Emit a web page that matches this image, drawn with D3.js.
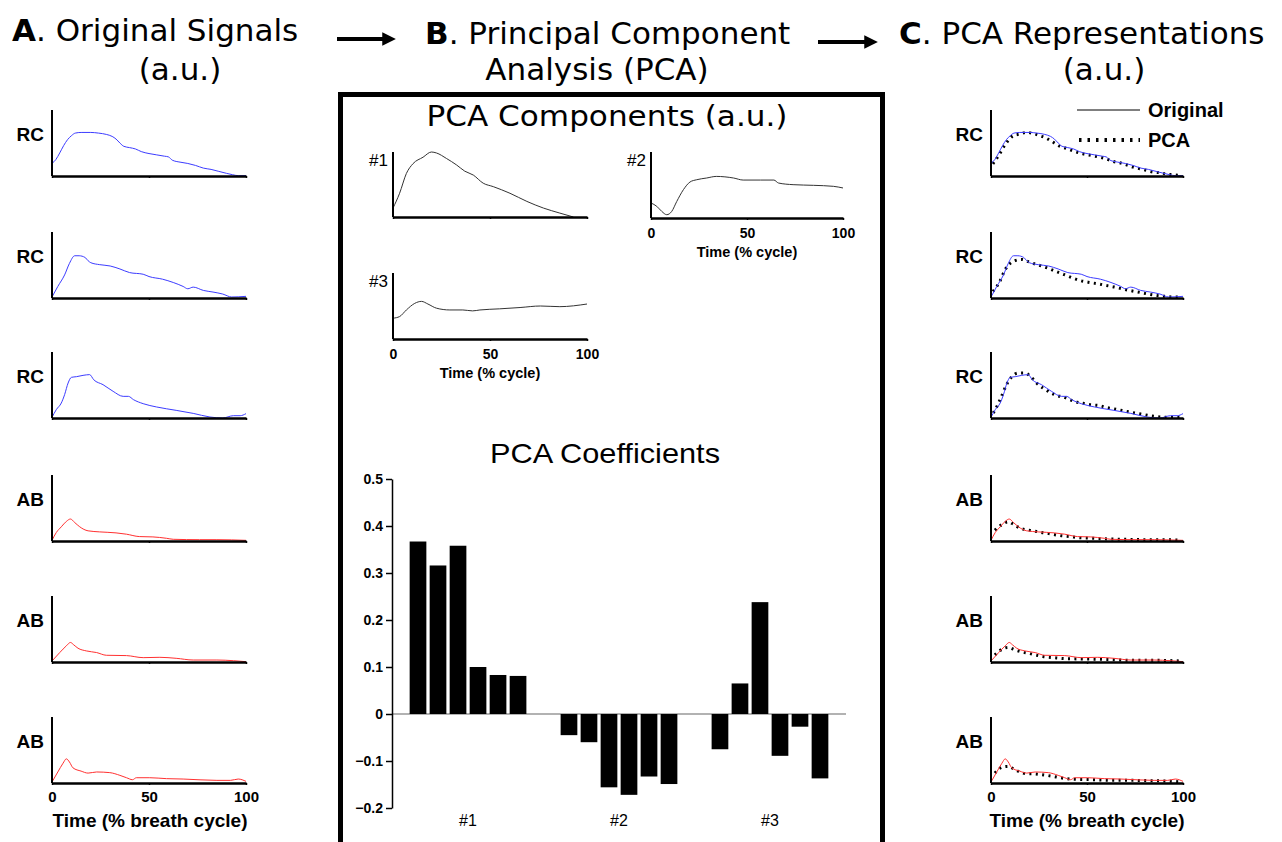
<!DOCTYPE html>
<html><head><meta charset="utf-8">
<script src="https://cdn.jsdelivr.net/npm/d3@7"></script>
<style>body{margin:0;background:#fff}svg{display:block}</style>
</head><body>
<svg id="c" width="1282" height="842"></svg>
<script>
// ---------- DATA ----------
// Original signals: [time %, amplitude a.u. (0..1 of axis)]
const rc1 = [[0,.19],[2,.25],[4,.35],[6,.46],[8,.55],[10,.61],[12,.65],[15,.66],[20,.66],[24,.65],[28,.63],[31,.6],[33,.56],[35,.5],[37,.45],[40,.43],[43,.41],[46,.37],[50,.34],[54,.32],[58,.3],[60,.29],[62,.24],[66,.21],[70,.19],[74,.16],[78,.12],[82,.1],[86,.07],[90,.04],[93,.02],[96,.005],[100,.005]];
const rc2 = [[0,.015],[3,.175],[6.5,.35],[9,.525],[11.7,.64],[14,.64],[17,.615],[18.6,.565],[20,.535],[24.6,.505],[30,.485],[35,.44],[40,.385],[47,.36],[50,.325],[57,.285],[62.5,.235],[67.6,.175],[70,.14],[72.8,.165],[78,.115],[83,.09],[88,.06],[92.6,.015],[100,.025]];
const rc3 = [[0,.01],[2.2,.126],[4.8,.227],[6.5,.354],[8.3,.53],[10,.616],[12.6,.626],[16,.646],[19.4,.657],[21.5,.58],[26.3,.505],[31.5,.404],[36.7,.328],[39.4,.328],[42,.278],[47,.217],[53.9,.167],[64,.116],[72.8,.07],[81.4,.015],[88,0],[93.5,.035],[97,.035],[100,.066]];
const ab1 = [[0,.01],[2.2,.128],[4.8,.215],[7.4,.297],[9.5,.333],[11.7,.28],[14.3,.215],[18.6,.154],[24.6,.138],[33,.123],[38.4,.103],[45,.067],[52,.062],[59,.041],[62.5,.026],[76,.02],[85,.02],[100,.01]];
const ab2 = [[0,.015],[4,.143],[7.4,.245],[9.5,.296],[11.2,.26],[13.4,.209],[17.7,.168],[23,.143],[28,.102],[38.4,.097],[47,.066],[55.6,.071],[64,.056],[72.8,.03],[85,.03],[93.5,.02],[100,.005]];
const ab3 = [[0,.015],[3,.167],[5.7,.3],[7.4,.366],[9,.318],[10.8,.23],[15,.18],[18.6,.15],[23,.167],[29.8,.157],[35,.116],[38.4,.08],[41.5,.05],[43.5,.08],[50.4,.08],[59,.066],[67.6,.06],[85,.04],[92,.04],[96,.06],[100,.025]];

// PCA reconstructions
const rc1Pca = [[1,.185],[4,.31],[7.6,.485],[11.6,.61],[15,.635],[18.5,.66],[22,.645],[25.5,.61],[29,.57],[32.4,.51],[35.9,.45],[39,.42],[43.7,.37],[48,.335],[52.3,.31],[56.7,.285],[60,.26],[63.6,.22],[67,.2],[70.5,.17],[74,.135],[77.5,.11],[81,.085],[84.4,.06],[88,.05],[91,.03],[94.8,.02],[98,.01]];
const rc2Pca = [[1,.1],[4.3,.235],[7.3,.425],[10,.525],[12.5,.565],[16,.585],[19.4,.55],[23,.515],[26.3,.485],[29.8,.45],[34,.4],[38.5,.35],[42.8,.3],[47,.26],[51.5,.235],[55.8,.215],[60,.19],[64.5,.165],[68.8,.135],[73,.11],[77.5,.085],[81.8,.06],[86,.04],[90.5,.025],[94.8,.015],[99,.015]];
const rc3Pca = [[1.2,.076],[3.5,.2],[5.5,.33],[8,.5],[10.7,.62],[14,.68],[17.7,.68],[20.6,.63],[23.7,.53],[27,.455],[30.7,.39],[34,.343],[37.6,.318],[41,.278],[44.5,.242],[48,.222],[52,.2],[56.7,.187],[60,.16],[63.6,.14],[68.8,.11],[73,.086],[78,.06],[82.6,.035],[87,.02],[91,.01],[95,.01],[99,.01]];
const ab1Pca = [[2,.164],[5.5,.246],[9,.29],[11.6,.256],[15,.195],[18.7,.17],[22,.154],[25.5,.133],[29,.118],[32.4,.1],[36,.082],[41,.067],[46,.05],[53,.041],[62,.03],[70.5,.026],[81,.02],[91,.02],[99,.01]];
const ab2Pca = [[2,.107],[5.5,.19],[9,.22],[12.5,.184],[16,.153],[19.4,.133],[23,.107],[27,.082],[32.4,.066],[39,.05],[48,.046],[56.7,.041],[67,.03],[77.5,.025],[88,.025],[99,.015]];
const ab3Pca = [[2,.15],[4.3,.217],[6,.242],[9,.252],[11.6,.217],[15,.167],[18.7,.14],[22,.14],[25.5,.13],[29,.116],[32.4,.1],[36,.08],[39.5,.066],[44.5,.055],[53,.05],[63.6,.04],[74,.04],[84.4,.035],[95,.025],[99,.015]];

const signalLabels = ["RC","RC","RC","AB","AB","AB"];

// PCA components
const comp1 = [[0,.137],[3.4,.365],[6.9,.67],[10.3,.82],[15.5,.92],[19.8,1.0],[22.4,.985],[27.6,.9],[32.8,.8],[37,.705],[41.4,.645],[46.5,.52],[51.7,.467],[60.3,.365],[69,.24],[77.6,.137],[86,.06],[93,0]];
const comp2 = [[0,.227],[3,.177],[5.6,.1],[8.2,.05],[10.8,.1],[13.4,.25],[16.9,.43],[20.3,.545],[23.8,.58],[29,.606],[34,.63],[43,.606],[48,.575],[57,.575],[64,.575],[66.4,.53],[74,.505],[84.7,.495],[95,.48],[100,.455]];
const comp3 = [[0,.315],[3.4,.34],[6.9,.44],[11.2,.54],[14.7,.57],[18,.53],[22.4,.467],[29.3,.44],[36,.44],[41,.426],[44.8,.44],[55,.457],[65.5,.477],[76,.5],[86,.49],[100,.53]];
const compLabels = ["#1","#2","#3"];

// PCA coefficients
const coefGroups = ["#1","#2","#3"];
const coef1 = [0.367,0.316,0.358,0.1,0.083,0.081];
const coef2 = [-0.045,-0.06,-0.156,-0.172,-0.133,-0.149];
const coef3 = [-0.075,0.065,0.238,-0.089,-0.027,-0.137];
const coefTicks = [-0.2,-0.1,0,0.1,0.2,0.3,0.4,0.5];
const timeTicks = [0,50,100];

// ---------- DRAW ----------
const svg = d3.select("#c");
const HEAD = "DejaVu Sans, Verdana, sans-serif";
const ARIAL = "Liberation Sans, Arial, sans-serif";
const BLUE = "#3c3cff", RED = "#ff3030";

function title(x, y, bold, rest, anchor) {
  const t = svg.append("text").attr("x", x).attr("y", y).attr("font-family", HEAD)
    .attr("font-size", 31).attr("text-anchor", anchor || "start").attr("fill", "#000");
  if (bold) t.append("tspan").attr("font-weight", "bold").text(bold);
  t.append("tspan").text(rest);
}
title(12, 41, "A", ". Original Signals");
title(180, 80, null, "(a.u.)", "middle");
title(425, 44, "B", ". Principal Component");
title(597, 80, null, "Analysis (PCA)", "middle");
title(899, 44, "C", ". PCA Representations");
title(1104, 80, null, "(a.u.)", "middle");

// arrows
svg.append("defs").append("marker").attr("id", "ah").attr("viewBox", "0 0 10 10")
  .attr("refX", 2).attr("refY", 5).attr("markerWidth", 3.6).attr("markerHeight", 3.4)
  .attr("orient", "auto").attr("markerUnits", "strokeWidth")
  .append("path").attr("d", "M0,0L10,5L0,10z").attr("fill", "#000");
[[337, 385, 39], [818, 867, 42]].forEach(a => {
  svg.append("line").attr("x1", a[0]).attr("x2", a[1]).attr("y1", a[2]).attr("y2", a[2])
    .attr("stroke", "#000").attr("stroke-width", 4).attr("marker-end", "url(#ah)");
});

// box
svg.append("rect").attr("x", 340.5).attr("y", 94.5).attr("width", 542).attr("height", 800)
  .attr("fill", "none").attr("stroke", "#000").attr("stroke-width", 5);

function panel(g, x0, x1, top, base, opts) {
  const x = d3.scaleLinear().domain([0, 100]).range([x0, x1]);
  const y = d3.scaleLinear().domain([0, 1]).range([base, top]);
  const line = d3.line().x(d => x(d[0])).y(d => y(d[1])).curve(d3.curveMonotoneX);
  (opts.series || []).forEach(s => {
    g.append("path").datum(s.data).attr("d", line).attr("fill", "none")
      .attr("stroke", s.color).attr("stroke-width", s.width || 1)
      .attr("stroke-dasharray", s.dash || null);
  });
  const ax = g.append("g").attr("transform", `translate(0,${base})`)
    .call(d3.axisBottom(x).tickValues(timeTicks).tickSize(2).tickSizeOuter(0)
      .tickFormat(opts.tickLabels ? d3.format("d") : ""));
  ax.select(".domain").attr("stroke", "#000").attr("stroke-width", 2.5);
  ax.selectAll(".tick line").attr("stroke", "#000").attr("stroke-width", 1.5);
  ax.selectAll(".tick text").attr("font-family", ARIAL).attr("font-weight", "bold")
    .attr("font-size", opts.tickSize || 15).attr("fill", "#000").attr("dy", opts.tickDy || "0.9em");
  g.append("line").attr("x1", x0).attr("x2", x0).attr("y1", base).attr("y2", top)
    .attr("stroke", "#000").attr("stroke-width", 2);
  return {x, y};
}

// Panels A and C
const origs = [rc1, rc2, rc3, ab1, ab2, ab3];
const fits = [rc1Pca, rc2Pca, rc3Pca, ab1Pca, ab2Pca, ab3Pca];
const tops = [110, 232, 352, 475, 596, 717];
origs.forEach((s, i) => {
  const color = i < 3 ? BLUE : RED;
  const last = i === 5;
  const top = tops[i], base = top + 66;
  const gl = svg.append("g");
  panel(gl, 52, 246, top, base, {series: [{data: s, color}], tickLabels: last});
  gl.append("text").attr("x", 44).attr("y", top + 31).attr("text-anchor", "end")
    .attr("font-family", ARIAL).attr("font-weight", "bold").attr("font-size", 19).text(signalLabels[i]);
  const gr = svg.append("g");
  panel(gr, 991, 1183, top, base, {series: [
    {data: fits[i], color: "#000", width: 3, dash: "2,4.4"},
    {data: s, color}], tickLabels: last});
  gr.append("text").attr("x", 983).attr("y", top + 31).attr("text-anchor", "end")
    .attr("font-family", ARIAL).attr("font-weight", "bold").attr("font-size", 19).text(signalLabels[i]);
});
[150, 1087].forEach(cx => {
  svg.append("text").attr("x", cx).attr("y", 827).attr("text-anchor", "middle")
    .attr("font-family", ARIAL).attr("font-weight", "bold").attr("font-size", 19)
    .text("Time (% breath cycle)");
});

// legend
svg.append("line").attr("x1", 1077).attr("x2", 1140).attr("y1", 110).attr("y2", 110)
  .attr("stroke", "#000").attr("stroke-width", 1);
svg.append("line").attr("x1", 1079).attr("x2", 1140).attr("y1", 140).attr("y2", 140)
  .attr("stroke", "#000").attr("stroke-width", 4).attr("stroke-dasharray", "2.5,6");
svg.append("text").attr("x", 1148).attr("y", 117).attr("font-family", ARIAL).attr("font-weight", "bold")
  .attr("font-size", 20).text("Original");
svg.append("text").attr("x", 1148).attr("y", 147).attr("font-family", ARIAL).attr("font-weight", "bold")
  .attr("font-size", 20).text("PCA");

// PCA components
svg.append("text").attr("x", 607).attr("y", 126).attr("text-anchor", "middle")
  .attr("font-family", HEAD).attr("font-size", 29).attr("textLength", 361)
  .attr("lengthAdjust", "spacingAndGlyphs").text("PCA Components (a.u.)");
const comps = [
  {data: comp1, x0: 393, x1: 587, top: 152, base: 217, labels: false},
  {data: comp2, x0: 651, x1: 843, top: 152, base: 218, labels: true},
  {data: comp3, x0: 393, x1: 587, top: 273, base: 339, labels: true}
];
comps.forEach((c, i) => {
  const g = svg.append("g");
  panel(g, c.x0, c.x1, c.top, c.base, {series: [{data: c.data, color: "#333", width: 1}],
    tickLabels: c.labels, tickSize: 14, tickDy: "1.05em"});
  g.append("text").attr("x", c.x0 - 5).attr("y", c.top + 14).attr("text-anchor", "end")
    .attr("font-family", ARIAL).attr("font-size", 17).text(compLabels[i]);
  if (c.labels) {
    g.append("text").attr("x", (c.x0 + c.x1) / 2).attr("y", c.base + 39).attr("text-anchor", "middle")
      .attr("font-family", ARIAL).attr("font-weight", "bold").attr("font-size", 14.5).text("Time (% cycle)");
  }
});

// PCA coefficients
svg.append("text").attr("x", 605).attr("y", 463).attr("text-anchor", "middle")
  .attr("font-family", ARIAL).attr("font-size", 28).attr("textLength", 230)
  .attr("lengthAdjust", "spacingAndGlyphs").text("PCA Coefficients");
const yC = d3.scaleLinear().domain([-0.2, 0.5]).range([808, 479]);
const outer = d3.scaleBand().domain(coefGroups).range([408, 830]).paddingInner(0.205);
const inner = d3.scaleBand().domain(d3.range(6)).range([0, outer.bandwidth()]).paddingInner(0.165).paddingOuter(0.0825);
const coefs = [coef1, coef2, coef3];
svg.append("line").attr("x1", 392).attr("x2", 846).attr("y1", yC(0)).attr("y2", yC(0))
  .attr("stroke", "#999").attr("stroke-width", 1.5);
coefs.forEach((arr, gi) => {
  svg.append("g").selectAll("rect").data(arr).join("rect")
    .attr("x", (d, i) => outer(coefGroups[gi]) + inner(i))
    .attr("width", inner.bandwidth())
    .attr("y", d => yC(Math.max(0, d)))
    .attr("height", d => Math.abs(yC(d) - yC(0)))
    .attr("fill", "#000");
  svg.append("text").attr("x", outer(coefGroups[gi]) + outer.bandwidth() / 2).attr("y", 826)
    .attr("text-anchor", "middle").attr("font-family", ARIAL).attr("font-size", 16).text(coefGroups[gi]);
});
const ay = svg.append("g").attr("transform", "translate(392,0)")
  .call(d3.axisLeft(yC).tickValues(coefTicks).tickSize(6).tickSizeOuter(0)
    .tickFormat(d => d === 0 ? "0" : d3.format(".1f")(d)));
ay.select(".domain").attr("stroke", "#000").attr("stroke-width", 1.5);
ay.selectAll(".tick line").attr("stroke", "#000").attr("stroke-width", 1.5);
ay.selectAll(".tick text").attr("font-family", ARIAL).attr("font-weight", "bold")
  .attr("font-size", 14).attr("fill", "#000").attr("x", -9);
</script>
</body></html>
